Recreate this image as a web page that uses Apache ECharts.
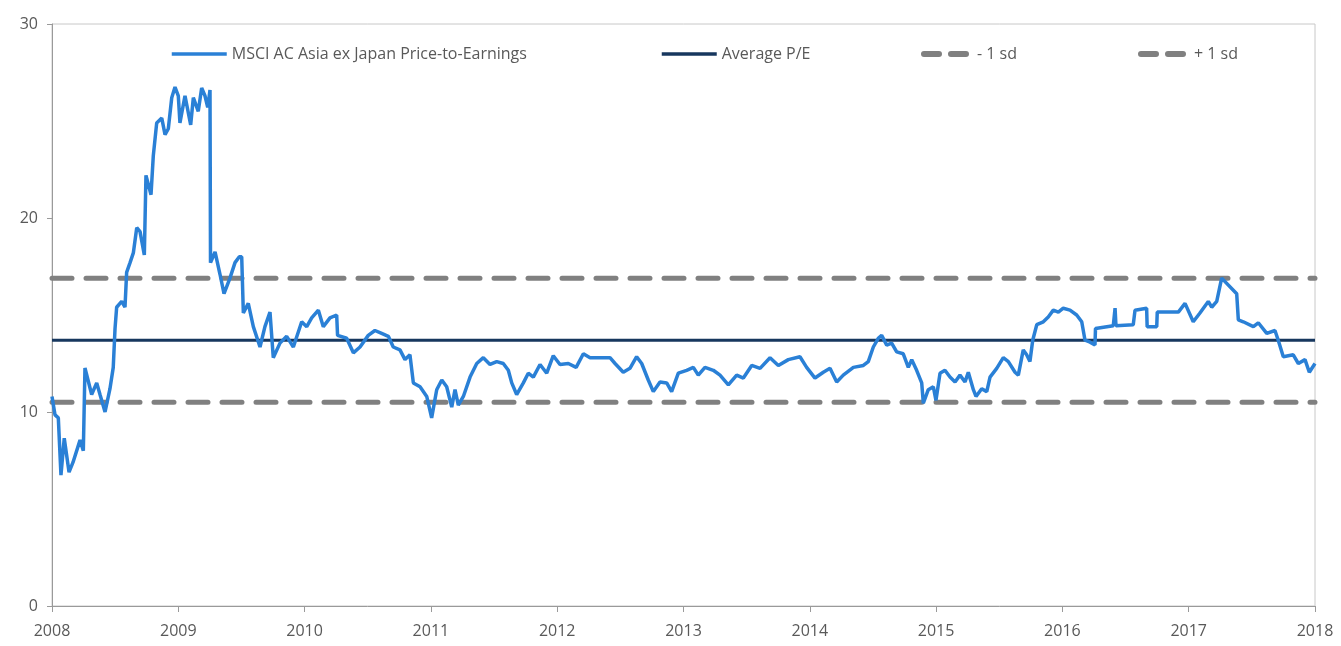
<!DOCTYPE html>
<html>
<head>
<meta charset="utf-8">
<script src="https://cdn.jsdelivr.net/npm/echarts@6/dist/echarts.min.js"></script>
<style>
  html, body { margin: 0; padding: 0; background: #fff; }
  #chart { width: 1341px; height: 646px; }
</style>
</head>
<body>
<div id="chart"></div>
<script>
// decimal years
var peYears = [
    2008.000, 2008.024, 2008.050, 2008.071, 2008.097, 2008.135, 2008.166, 2008.222, 2008.248, 2008.261,
    2008.314, 2008.354, 2008.380, 2008.420, 2008.459, 2008.485, 2008.499, 2008.512, 2008.552, 2008.578,
    2008.591, 2008.618, 2008.644, 2008.671, 2008.697, 2008.731, 2008.744, 2008.784, 2008.802, 2008.829,
    2008.869, 2008.895, 2008.921, 2008.948, 2008.974, 2009.000, 2009.013, 2009.053, 2009.098, 2009.119,
    2009.158, 2009.185, 2009.211, 2009.233, 2009.251, 2009.255, 2009.291, 2009.330, 2009.362, 2009.409,
    2009.449, 2009.483, 2009.502, 2009.515, 2009.554, 2009.594, 2009.647, 2009.686, 2009.726, 2009.752,
    2009.805, 2009.858, 2009.911, 2009.977, 2010.017, 2010.056, 2010.109, 2010.148, 2010.201, 2010.254,
    2010.261, 2010.333, 2010.386, 2010.439, 2010.504, 2010.557, 2010.610, 2010.663, 2010.702, 2010.755,
    2010.795, 2010.834, 2010.861, 2010.914, 2010.967, 2011.006, 2011.046, 2011.086, 2011.125, 2011.165,
    2011.191, 2011.217, 2011.257, 2011.310, 2011.363, 2011.415, 2011.468, 2011.521, 2011.573, 2011.613,
    2011.640, 2011.679, 2011.732, 2011.771, 2011.811, 2011.864, 2011.917, 2011.969, 2012.022, 2012.088,
    2012.150, 2012.207, 2012.260, 2012.339, 2012.418, 2012.458, 2012.523, 2012.576, 2012.629, 2012.669,
    2012.721, 2012.761, 2012.814, 2012.867, 2012.906, 2012.959, 2013.025, 2013.078, 2013.117, 2013.170,
    2013.236, 2013.289, 2013.355, 2013.421, 2013.474, 2013.540, 2013.606, 2013.685, 2013.751, 2013.830,
    2013.922, 2013.975, 2014.041, 2014.107, 2014.160, 2014.213, 2014.265, 2014.345, 2014.424, 2014.463,
    2014.503, 2014.542, 2014.569, 2014.609, 2014.648, 2014.688, 2014.740, 2014.780, 2014.807, 2014.846,
    2014.886, 2014.899, 2014.938, 2014.978, 2014.999, 2015.031, 2015.070, 2015.110, 2015.150, 2015.189,
    2015.229, 2015.255, 2015.295, 2015.316, 2015.361, 2015.401, 2015.427, 2015.480, 2015.532, 2015.572,
    2015.625, 2015.651, 2015.690, 2015.717, 2015.743, 2015.765, 2015.797, 2015.849, 2015.888, 2015.928,
    2015.968, 2016.007, 2016.060, 2016.113, 2016.153, 2016.179, 2016.219, 2016.258, 2016.262, 2016.403,
    2016.417, 2016.424, 2016.561, 2016.575, 2016.667, 2016.671, 2016.747, 2016.751, 2016.918, 2016.971,
    2017.036, 2017.089, 2017.155, 2017.182, 2017.222, 2017.261, 2017.380, 2017.393, 2017.432, 2017.512,
    2017.551, 2017.618, 2017.683, 2017.709, 2017.749, 2017.828, 2017.868, 2017.921, 2017.955, 2018.000
];
var peValues = [
    10.8, 9.85, 9.7, 6.75, 8.65, 6.9, 7.4, 8.55, 8.0, 12.27,
    10.9, 11.5, 10.9, 10.0, 11.2, 12.3, 14.3, 15.4, 15.7, 15.4,
    17.2, 17.7, 18.2, 19.5, 19.3, 18.1, 22.2, 21.2, 23.2, 24.9,
    25.15, 24.3, 24.6, 26.2, 26.75, 26.3, 24.9, 26.3, 24.8, 26.2,
    25.5, 26.7, 26.3, 25.7, 26.6, 17.7, 18.25, 17.1, 16.1, 16.9,
    17.7, 18.0, 18.0, 15.1, 15.6, 14.4, 13.35, 14.4, 15.15, 12.8,
    13.55, 13.9, 13.35, 14.65, 14.4, 14.85, 15.25, 14.4, 14.85, 15.0,
    13.95, 13.8, 13.05, 13.35, 13.95, 14.2, 14.05, 13.9, 13.35, 13.2,
    12.7, 12.95, 11.5, 11.3, 10.8, 9.7, 11.15, 11.65, 11.3, 10.25,
    11.15, 10.35, 10.8, 11.8, 12.5, 12.8, 12.45, 12.6, 12.5, 12.15,
    11.5, 10.9, 11.5, 12.0, 11.8, 12.45, 12.0, 12.9, 12.45, 12.5,
    12.3, 13.0, 12.8, 12.8, 12.8, 12.5, 12.05, 12.25, 12.85, 12.5,
    11.65, 11.05, 11.55, 11.5, 11.05, 12.0, 12.15, 12.3, 11.9, 12.3,
    12.15, 11.9, 11.4, 11.9, 11.75, 12.4, 12.25, 12.8, 12.4, 12.7,
    12.85, 12.3, 11.75, 12.05, 12.25, 11.55, 11.9, 12.3, 12.4, 12.6,
    13.35, 13.8, 13.95, 13.45, 13.55, 13.1, 13.0, 12.3, 12.7, 12.15,
    11.5, 10.45, 11.15, 11.3, 10.6, 12.0, 12.15, 11.8, 11.55, 11.9,
    11.55, 12.05, 11.15, 10.8, 11.2, 11.05, 11.8, 12.25, 12.8, 12.6,
    12.05, 11.9, 13.2, 12.95, 12.6, 13.7, 14.5, 14.65, 14.9, 15.25,
    15.15, 15.35, 15.25, 15.0, 14.65, 13.7, 13.6, 13.45, 14.3, 14.45,
    15.35, 14.45, 14.5, 15.25, 15.35, 14.4, 14.4, 15.15, 15.15, 15.6,
    14.65, 15.1, 15.7, 15.4, 15.7, 16.9, 16.1, 14.75, 14.65, 14.4,
    14.6, 14.05, 14.2, 13.7, 12.85, 12.95, 12.5, 12.7, 12.05, 12.5
];
var avgPE = 13.7;
var minusSD = 10.5;
var plusSD = 16.9;
var xStart = 2008, xEnd = 2018;

var seriesNames = ['MSCI AC Asia ex Japan Price-to-Earnings', 'Average P/E', '- 1 sd', '+ 1 sd'];

var peData = [];
for (var i = 0; i < peYears.length; i++) {
    peData.push([peYears[i], peValues[i]]);
}
function flat(v) {
    return [[xStart, v], [xEnd, v]];
}

var chart = echarts.init(document.getElementById('chart'));
var font = '"Open Sans", "Noto Sans", sans-serif';
var textGrey = '#595959';
var blue = '#2a80d6';
var navy = '#17375e';
var grey = '#808080';

function legendAt(left, name, width, lineStyle, textPad) {
    return {
        left: left,
        top: 41,
        data: [name],
        itemWidth: width,
        itemHeight: 4,
        selectedMode: false,
        itemStyle: { opacity: 0 },
        lineStyle: lineStyle,
        textStyle: { color: textGrey, fontSize: 16, fontFamily: font, padding: [0, 0, 0, textPad] }
    };
}

var option = {
    animation: false,
    backgroundColor: '#fff',
    grid: {
        left: 52, right: 26, top: 24, bottom: 40,
        show: true, borderColor: '#c8c8c8', borderWidth: 1
    },
    legend: [
        legendAt(165, seriesNames[0], 55, { width: 3.5 }, 0),
        legendAt(655, seriesNames[1], 55, { width: 3.5 }, 0),
        legendAt(916, seriesNames[2], 42, { width: 6, type: [15, 12], cap: 'round' }, 6),
        legendAt(1133, seriesNames[3], 42, { width: 6, type: [15, 12], cap: 'round' }, 6)
    ],
    xAxis: {
        type: 'value',
        min: xStart,
        max: xEnd,
        interval: 1,
        axisLine: { lineStyle: { color: '#9a9a9a' } },
        axisTick: { show: true, length: 6, lineStyle: { color: '#9a9a9a' } },
        axisLabel: {
            color: textGrey, fontSize: 16, fontFamily: font, margin: 17,
            formatter: function (v) { return String(v); }
        },
        splitLine: { show: false }
    },
    yAxis: {
        type: 'value',
        min: 0,
        max: 30,
        interval: 10,
        axisLine: { show: true, lineStyle: { color: '#9a9a9a' } },
        axisTick: { show: true, length: 5, lineStyle: { color: '#9a9a9a' } },
        axisLabel: { color: textGrey, fontSize: 16, fontFamily: font, margin: 14 },
        splitLine: { show: false }
    },
    series: [
        {
            name: seriesNames[1],
            type: 'line',
            data: flat(avgPE),
            symbol: 'none',
            lineStyle: { color: navy, width: 3 },
            itemStyle: { color: navy },
            z: 2
        },
        {
            name: seriesNames[2],
            type: 'line',
            data: flat(minusSD),
            symbol: 'none',
            lineStyle: { color: grey, width: 5, type: [20, 14], cap: 'round' },
            itemStyle: { color: grey },
            z: 2
        },
        {
            name: seriesNames[3],
            type: 'line',
            data: flat(plusSD),
            symbol: 'none',
            lineStyle: { color: grey, width: 5, type: [20, 14], cap: 'round' },
            itemStyle: { color: grey },
            z: 2
        },
        {
            name: seriesNames[0],
            type: 'line',
            data: peData,
            symbol: 'none',
            lineStyle: { color: blue, width: 3.5 },
            itemStyle: { color: blue },
            z: 3
        }
    ]
};
chart.setOption(option);
</script>
</body>
</html>
